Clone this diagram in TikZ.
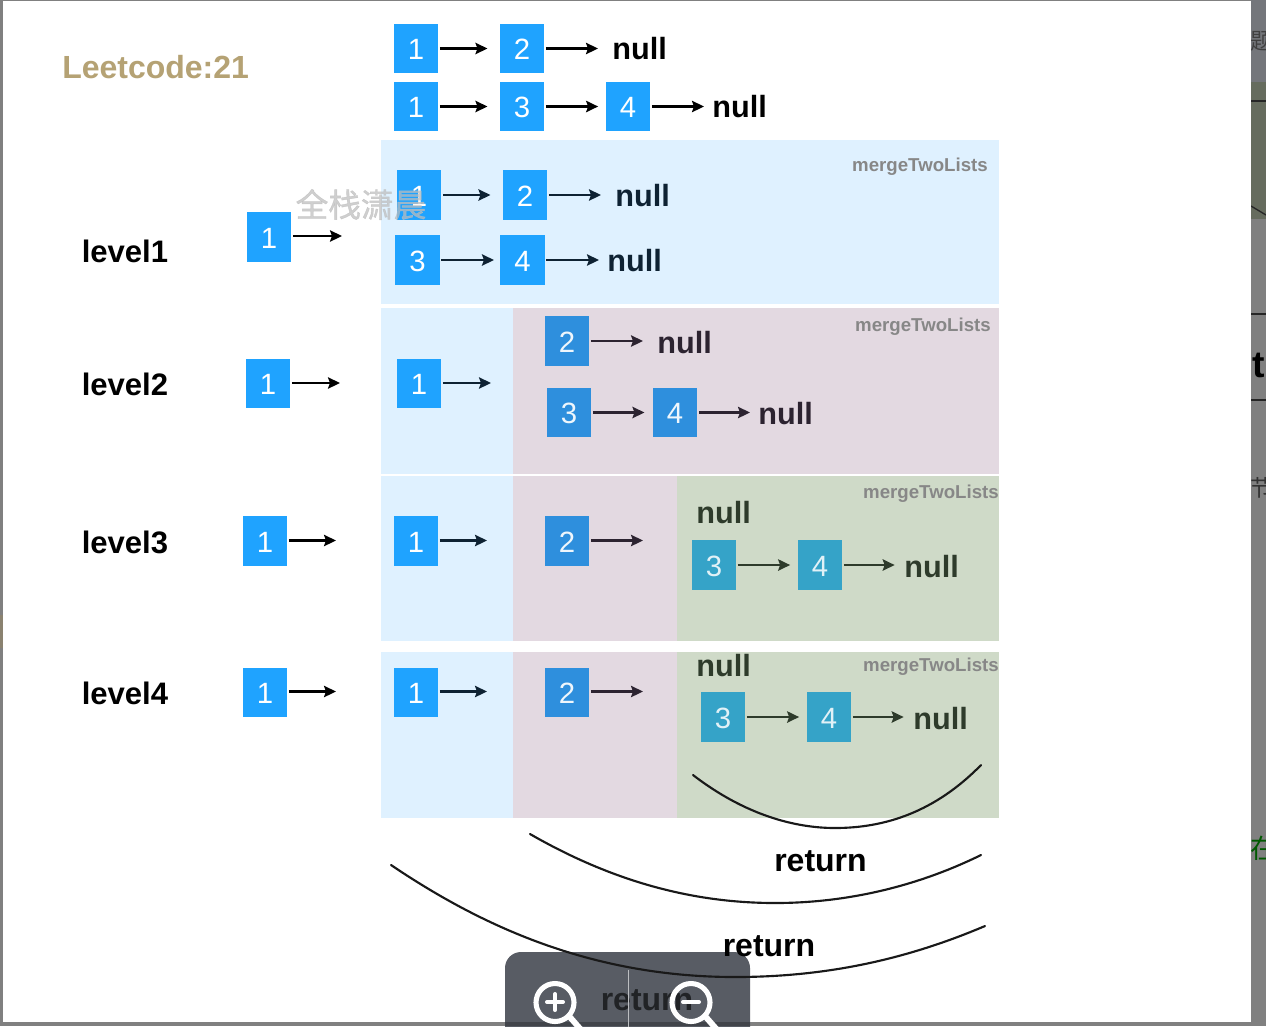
\documentclass[tikz,border=0pt]{standalone}
\usepackage{fontspec}
\setmainfont{Liberation Sans}
\newfontfamily\cjkf{Noto Sans CJK SC}
\newfontfamily\cjkw[FakeBold=1.2]{Noto Sans CJK SC}
\usetikzlibrary{arrows.meta}
\definecolor{pblue}{HTML}{DFF1FF}
\definecolor{ppink}{HTML}{E3D9E1}
\definecolor{pgreen}{HTML}{CFDAC8}
\definecolor{bxblue}{HTML}{1FA3FF}
\definecolor{bxpink}{HTML}{2E8FDD}
\definecolor{bxgreen}{HTML}{35A3C8}
\definecolor{inkblue}{HTML}{0E2233}
\definecolor{inkpink}{HTML}{2C2330}
\definecolor{inkgreen}{HTML}{2E3B2B}
\definecolor{grayb}{HTML}{808080}
\definecolor{tool}{HTML}{585C64}
\definecolor{sidetop}{HTML}{74767B}
\definecolor{sidegreen}{HTML}{666C5E}
\definecolor{sidetan}{HTML}{8A8270}
\tikzset{
 x=0.75pt,y=-0.75pt,
 listbox/.style={fill=bxblue,text=white,minimum width=33.4pt,minimum height=36.8pt,inner sep=0pt,text height=17pt,text depth=0pt,font=\fontsize{22}{24}\selectfont},
 boxp/.style={listbox,fill=bxpink,text=white!92!bxpink},
 boxg/.style={listbox,fill=bxgreen,text=white!85!bxgreen},
 nul/.style={anchor=west,inner sep=0pt,font=\fontsize{23}{26}\selectfont\bfseries,text=black},
 lvl/.style={anchor=west,inner sep=0pt,font=\fontsize{23.3}{26}\selectfont\bfseries,text=black},
 mrg/.style={anchor=east,inner sep=0pt,font=\fontsize{14}{16}\selectfont\bfseries,text=black!47},
 ret/.style={anchor=center,inner sep=0pt,font=\fontsize{24}{26}\selectfont\bfseries},
 arr/.style={draw=black,line width=1.7pt,-{Stealth[length=9pt,width=8.5pt,inset=1.5pt]},shorten <=1pt},
 tonode/.style={arr,shorten >=9pt},
 curve/.style={draw=black!90,line width=1.6pt,line cap=round}
}
\begin{document}
\begin{tikzpicture}
\useasboundingbox (0,0) rectangle (1266,1026);
% surroundings of the dialog
\fill[grayb] (0,0) rectangle (1266,1026);
\fill[sidetop] (1251,0) rectangle (1266,82);
\fill[sidegreen] (1251,82) rectangle (1266,219);
\draw[black!85,line width=1pt] (1251,101) -- (1266,101);
\draw[black!85,line width=1pt] (1251,206) -- (1266,215);
\draw[black!85,line width=1pt] (1251,314) -- (1266,314);
\draw[black!85,line width=1pt] (1251,400) -- (1266,400);
\fill[sidetan] (0,615) rectangle (3,648);
\begin{scope}
\clip (1251,0) rectangle (1266,1026);
\node[anchor=west,inner sep=0pt,text=black!75,font=\fontsize{17}{20}\cjkf] (sidea) at (1250,41) {题};
\node[anchor=west,inner sep=0pt,text=black,font=\fontsize{28}{30}\selectfont\bfseries] (sideb) at (1252,365) {t};
\node[anchor=west,inner sep=0pt,text=black!80,font=\fontsize{17}{20}\cjkf] (sidec) at (1250,488) {节};
\node[anchor=west,inner sep=0pt,text=green!35!black,font=\fontsize{20}{22}\cjkf] (sided) at (1250,848) {在};
\end{scope}
\fill[white] (3,0.5) rectangle (1250.5,1022);
% panels
\fill[pblue] (381,140) rectangle (999,304);
\fill[pblue] (381,308) rectangle (512.5,474);
\fill[ppink] (512.5,308) rectangle (999,474);
\fill[pblue] (381,476) rectangle (512.5,641);
\fill[ppink] (512.5,476) rectangle (676.5,641);
\fill[pgreen] (676.5,476) rectangle (999,641);
\fill[pblue] (381,652) rectangle (512.5,818);
\fill[ppink] (512.5,652) rectangle (676.5,818);
\fill[pgreen] (676.5,652) rectangle (999,818);
% title and labels
\node[anchor=west,inner sep=0pt,font=\fontsize{24}{26}\selectfont\bfseries] (title) at (62,67) {\textcolor[HTML]{B5A274}{Leetcode:21}};
\node[lvl] (l1) at (81.5,251.5) {level1};
\node[lvl] (l2) at (81.5,384.5) {level2};
\node[lvl] (l3) at (81.5,542.5) {level3};
\node[lvl] (l4) at (81.5,693.5) {level4};
\node[mrg] (m1) at (988,167) {mergeTwoLists};
\node[mrg] (m2) at (991,327) {mergeTwoLists};
\node[mrg] (m3) at (999,494) {mergeTwoLists};
\node[mrg] (m4) at (999,667) {mergeTwoLists};
% top lists
\node[listbox] (ta) at (416,48.5) {1};
\node[listbox] (tb) at (522,48.5) {2};
\node[nul] (tn) at (612,49) {null};
\node[listbox] (ua) at (416,106.5) {1};
\node[listbox] (ub) at (522,106.5) {3};
\node[listbox] (uc) at (628,106.5) {4};
\node[nul] (un) at (712,107) {null};
\draw[tonode] (ta.east) -- (ta.east -| tb.west);
\draw[arr,shorten >=10.5pt] (tb.east) -- (tb.east -| tn.west);
\draw[tonode] (ua.east) -- (ua.east -| ub.west);
\draw[arr,shorten >=5.5pt] (ub.east) -- (ub.east -| uc.west);
\draw[arr,shorten >=6pt] (uc.east) -- (uc.east -| un.west);
% level 1
\node[listbox] (a1) at (269,237) {1};
\coordinate (a1e) at (342,236);
\draw[arr] (a1.east |- a1e) -- (a1e);
\node[listbox] (b1) at (419,195) {1};
\node[listbox] (b2) at (525,195) {2};
\node[nul,text=inkblue] (bn) at (615,196) {null};
\node[listbox] (c1) at (417.5,260) {3};
\node[listbox] (c2) at (522.5,260) {4};
\node[nul,text=inkblue] (cn) at (607,261) {null};
\draw[tonode,draw=inkblue] (b1.east) -- (b1.east -| b2.west);
\draw[arr,draw=inkblue,shorten >=10.5pt] (b2.east) -- (b2.east -| bn.west);
\draw[arr,draw=inkblue,shorten >=4.5pt] (c1.east) -- (c1.east -| c2.west);
\draw[arr,draw=inkblue,shorten >=6pt] (c2.east) -- (c2.east -| cn.west);
% level 2
\node[listbox] (a2) at (268,383.5) {1};
\coordinate (a2e) at (340,383);
\draw[arr] (a2.east |- a2e) -- (a2e);
\node[listbox] (d1) at (419,383.5) {1};
\coordinate (d1e) at (491,383);
\draw[arr,draw=inkblue] (d1.east |- d1e) -- (d1e);
\node[boxp] (d2) at (567,341) {2};
\node[nul,text=inkpink] (dn) at (657,343) {null};
\draw[arr,draw=inkpink,shorten >=10.5pt] (d2.east) -- (d2.east -| dn.west);
\node[boxp] (e1) at (569,412.5) {3};
\node[boxp] (e2) at (675,412.5) {4};
\node[nul,text=inkpink] (en) at (758,414) {null};
\draw[arr,draw=inkpink,shorten >=6pt] (e1.east) -- (e1.east -| e2.west);
\draw[arr,draw=inkpink,shorten >=6pt] (e2.east) -- (e2.east -| en.west);
% level 3
\node[listbox] (a3) at (265,541) {1};
\coordinate (a3e) at (336,540.5);
\draw[arr] (a3.east |- a3e) -- (a3e);
\node[listbox] (f1) at (416,541) {1};
\coordinate (f1e) at (487,540.5);
\draw[arr,draw=inkblue] (f1.east |- f1e) -- (f1e);
\node[boxp] (f2) at (567,541) {2};
\coordinate (f2e) at (643,540.5);
\draw[arr,draw=inkpink] (f2.east |- f2e) -- (f2e);
\node[nul,text=inkgreen] (fn) at (696,513) {null};
\node[boxg] (g1) at (714,565) {3};
\node[boxg] (g2) at (820,565) {4};
\node[nul,text=inkgreen] (gn) at (904,567) {null};
\draw[arr,draw=inkgreen,shorten >=5.5pt] (g1.east) -- (g1.east -| g2.west);
\draw[arr,draw=inkgreen,shorten >=7pt] (g2.east) -- (g2.east -| gn.west);
% level 4
\node[listbox] (a4) at (265,692.5) {1};
\coordinate (a4e) at (336,691.5);
\draw[arr] (a4.east |- a4e) -- (a4e);
\node[listbox] (h1) at (416,692.5) {1};
\coordinate (h1e) at (487,691.5);
\draw[arr,draw=inkblue] (h1.east |- h1e) -- (h1e);
\node[boxp] (h2) at (567,692.5) {2};
\coordinate (h2e) at (643,691.5);
\draw[arr,draw=inkpink] (h2.east |- h2e) -- (h2e);
\node[nul,text=inkgreen] (hn) at (696,666) {null};
\node[boxg] (i1) at (723,717) {3};
\node[boxg] (i2) at (829,717) {4};
\node[nul,text=inkgreen] (in) at (913,719) {null};
\draw[arr,draw=inkgreen,shorten >=5.5pt] (i1.east) -- (i1.east -| i2.west);
\draw[arr,draw=inkgreen,shorten >=7pt] (i2.east) -- (i2.east -| in.west);
% zoom toolbar
\begin{scope}
\clip (500,945) rectangle (755,1026);
\fill[tool,rounded corners=12pt] (505,1060) rectangle (750,952);
\end{scope}
\fill[black,opacity=.25] (505,1022) rectangle (750,1026);
% return curves
\coordinate (r0a) at (693,775);
\coordinate (r0b) at (981,765);
\draw[curve] (r0a) .. controls (745,815) and (795,828) .. (835,828) .. controls (885,828) and (935,812) .. (r0b);
\coordinate (r1a) at (530,834);
\coordinate (r1b) at (981,855);
\draw[curve] (r1a) .. controls (610,880) and (690,903) .. (775,903) .. controls (850,903) and (920,885) .. (r1b);
\coordinate (r2a) at (391,865);
\coordinate (r2b) at (985,926);
\draw[curve] (r2a) .. controls (480,925) and (590,977) .. (735,977) .. controls (825,977) and (905,960) .. (r2b);
\node[ret,text=black] (ra) at (820.5,861) {return};
\node[ret,text=black] (rb) at (769,946) {return};
\node[ret,text=black!62!tool] (rc) at (647,1000) {return};
% toolbar controls
\begin{scope}
\clip (505,952) rectangle (750,1026);
\draw[white!60!tool,line width=.6pt] (628.5,970) -- (628.5,1030);
\foreach \cx in {555,691}{
  \draw[white,line width=3.8pt] (\cx,1002.5) circle[radius=19];
  \draw[white,line width=4.4pt,line cap=round] (\cx+14,1016) -- (\cx+28,1032);
}
\draw[white,line width=3pt,line cap=round] (547,1002) -- (563,1002);
\draw[white,line width=3pt,line cap=round] (555,994) -- (555,1010);
\draw[white,line width=3pt,line cap=round] (683,1002) -- (699,1002);
\end{scope}
% watermark
\node[anchor=center,inner sep=0pt,text=black!26,opacity=.72,font=\fontsize{24.5}{26}\cjkw] (wm) at (361,204.5) {全栈潇晨};
\end{tikzpicture}
\end{document}
